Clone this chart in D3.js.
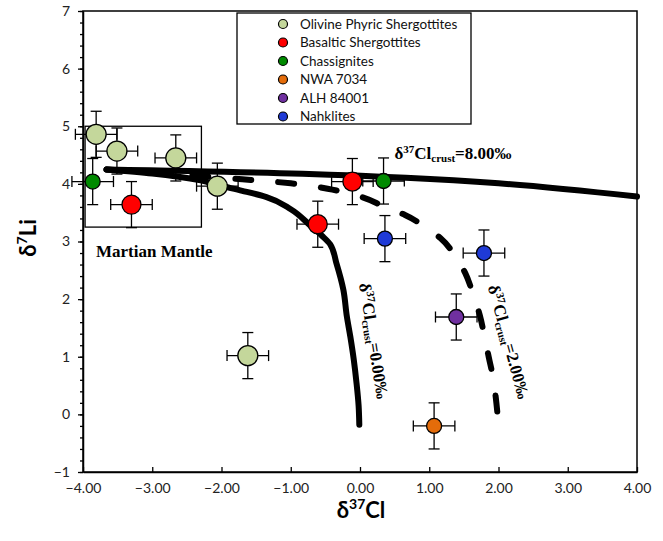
<!DOCTYPE html>
<html>
<head>
<meta charset="utf-8">
<script src="https://cdn.jsdelivr.net/npm/d3@7"></script>
<style>
  body { margin: 0; background: #fff; }
  svg { display: block; }
</style>
</head>
<body>
<svg width="663" height="541"></svg>
<script>
// sample groups (legend order)
const groups = ["Olivine Phyric Shergottites", "Basaltic Shergottites", "Chassignites", "NWA 7034", "ALH 84001", "Nahklites"];
const groupColors = ["#c4d79b", "#ff0000", "#008a00", "#e46c0a", "#7030a0", "#1f3ad6"];

// d37Cl / d7Li values
const olivineCl = [-3.81, -3.51, -2.66, -2.06, -1.62];
const olivineLi = [4.86, 4.57, 4.45, 3.96, 1.02];
const basalticCl = [-3.30, -0.61, -0.11];
const basalticLi = [3.64, 3.30, 4.04];
const chassCl = [-3.86, 0.34];
const chassLi = [4.04, 4.05];
const nwaCl = [1.07];
const nwaLi = [-0.20];
const alhCl = [1.39];
const alhLi = [1.69];
const nakhCl = [0.36, 1.79];
const nakhLi = [3.05, 2.80];
const errCl = 0.3;
const errLi = 0.4;

// mixing curves
const crust8Cl = [-3.66, 2.0, 4.0];
const crust8Li = [4.25, 4.01, 3.78];
const crust0Cl = [-3.66, -3.0, -2.3, -2.05, -1.7, -1.35, -1.0, -0.72, -0.55, -0.43, -0.34, -0.24, -0.19, -0.14, -0.09, -0.05, -0.02, -0.01];
const crust0Li = [4.25, 4.18, 4.06, 3.98, 3.88, 3.77, 3.56, 3.28, 3.10, 2.95, 2.62, 2.16, 1.70, 1.35, 0.95, 0.54, 0.15, -0.18];
const crust2Cl = [-3.66, -2.6, -1.7, -1.0, -0.4, 0.0, 0.36, 0.65, 0.91, 1.16, 1.37, 1.52, 1.63, 1.73, 1.80, 1.86, 1.92, 1.96, 1.99];
const crust2Li = [4.25, 4.16, 4.08, 4.01, 3.90, 3.78, 3.60, 3.46, 3.28, 3.06, 2.76, 2.45, 2.10, 1.72, 1.34, 0.99, 0.65, 0.30, -0.05];

// Martian mantle box
const mantleCl = [-3.97, -2.29];
const mantleLi = [3.25, 5.0];

const xTicks = [-4, -3, -2, -1, 0, 1, 2, 3, 4];
const yTicks = [-1, 0, 1, 2, 3, 4, 5, 6, 7];

const svg = d3.select("svg");
const x = d3.scaleLinear().domain([-4, 4]).range([83, 637]);
const y = d3.scaleLinear().domain([-1, 7]).range([472, 11]);

const sans = "Lato, 'Open Sans', sans-serif";
const serif = "'Liberation Serif', 'Times New Roman', serif";

// frame
svg.append("rect")
    .attr("x", x(-4)).attr("y", y(7))
    .attr("width", x(4) - x(-4)).attr("height", y(-1) - y(7))
    .attr("fill", "none").attr("stroke", "#000").attr("stroke-width", 1.5);

// y axis minor + major
svg.append("g")
    .attr("transform", "translate(" + x(-4) + ",0)")
    .call(d3.axisLeft(y).ticks(40).tickSize(3).tickFormat(""))
    .call(g => g.select(".domain").remove())
    .selectAll("line").attr("stroke-width", 1.3);
let yAxis = svg.append("g")
    .attr("transform", "translate(" + x(-4) + ",0)")
    .call(d3.axisLeft(y).tickValues(yTicks).tickSize(5).tickSizeOuter(0).tickPadding(8).tickFormat(d3.format("d")));
yAxis.select(".domain").attr("stroke-width", 1.5);
yAxis.selectAll("line").attr("stroke-width", 1.3);
yAxis.selectAll("text").attr("font-family", sans).attr("font-size", 14).attr("fill", "#222");

// x axis, ticks pointing inward
let xAxis = svg.append("g")
    .attr("transform", "translate(0," + y(-1) + ")")
    .call(d3.axisBottom(x).tickValues(xTicks).tickSizeInner(-5).tickSizeOuter(0).tickPadding(11).tickFormat(d3.format(".2f")));
xAxis.select(".domain").attr("stroke-width", 1.5);
xAxis.selectAll("line").attr("stroke-width", 1.3);
xAxis.selectAll("text").attr("font-family", sans).attr("font-size", 14).attr("fill", "#222");

// axis titles
svg.append("text")
    .attr("x", 361).attr("y", 518)
    .attr("text-anchor", "middle")
    .attr("font-family", sans).attr("font-weight", "bold").attr("font-size", 22)
    .call(t => {
        t.append("tspan").text("δ");
        t.append("tspan").attr("font-size", 14).attr("dy", -9).text("37");
        t.append("tspan").attr("dy", 9).text("Cl");
    });
svg.append("text")
    .attr("transform", "translate(36,238) rotate(-90)")
    .attr("text-anchor", "middle")
    .attr("font-family", sans).attr("font-weight", "bold").attr("font-size", 22)
    .call(t => {
        t.append("tspan").text("δ");
        t.append("tspan").attr("font-size", 14).attr("dy", -9).text("7");
        t.append("tspan").attr("dy", 9).text("Li");
    });

// Martian mantle box
svg.append("rect")
    .attr("x", x(mantleCl[0])).attr("y", y(mantleLi[1]))
    .attr("width", x(mantleCl[1]) - x(mantleCl[0]))
    .attr("height", y(mantleLi[0]) - y(mantleLi[1]))
    .attr("fill", "none").attr("stroke", "#000").attr("stroke-width", 1.3);
svg.append("text")
    .attr("x", 96).attr("y", 257)
    .attr("font-family", serif).attr("font-weight", "bold").attr("font-size", 17)
    .text("Martian Mantle");

// mixing lines
const line = d3.line().x(d => x(d[0])).y(d => y(d[1])).curve(d3.curveMonotoneY);
const lineX = d3.line().x(d => x(d[0])).y(d => y(d[1])).curve(d3.curveMonotoneX);
svg.append("path")
    .datum(d3.zip(crust8Cl, crust8Li))
    .attr("d", lineX)
    .attr("fill", "none").attr("stroke", "#000").attr("stroke-width", 6).attr("stroke-linecap", "round");
svg.append("path")
    .datum(d3.zip(crust0Cl, crust0Li))
    .attr("d", line)
    .attr("fill", "none").attr("stroke", "#000").attr("stroke-width", 6).attr("stroke-linecap", "round");
svg.append("path")
    .datum(d3.zip(crust2Cl, crust2Li))
    .attr("d", line)
    .attr("fill", "none").attr("stroke", "#000").attr("stroke-width", 6)
    .attr("stroke-linecap", "round").attr("stroke-dasharray", "16,27");

// samples
const samples = [
    {cl: olivineCl, li: olivineLi, r: 10},
    {cl: basalticCl, li: basalticLi, r: 9.5},
    {cl: chassCl, li: chassLi, r: 7.5},
    {cl: nwaCl, li: nwaLi, r: 7.5},
    {cl: alhCl, li: alhLi, r: 7.5},
    {cl: nakhCl, li: nakhLi, r: 7.5}
];
let points = [];
samples.forEach((s, gi) => {
    s.cl.forEach((c, i) => points.push({cl: c, li: s.li[i], r: s.r, g: gi}));
});

let err = svg.append("g").attr("stroke", "#000").attr("stroke-width", 1.3);
const cap = 5.5;
points.forEach(p => {
    let cx = x(p.cl), cy = y(p.li);
    let x0 = x(p.cl - errCl), x1 = x(p.cl + errCl);
    let y0 = y(p.li + errLi), y1 = y(p.li - errLi);
    err.append("line").attr("x1", x0).attr("x2", x1).attr("y1", cy).attr("y2", cy);
    err.append("line").attr("x1", cx).attr("x2", cx).attr("y1", y0).attr("y2", y1);
    err.append("line").attr("x1", x0).attr("x2", x0).attr("y1", cy - cap).attr("y2", cy + cap);
    err.append("line").attr("x1", x1).attr("x2", x1).attr("y1", cy - cap).attr("y2", cy + cap);
    err.append("line").attr("x1", cx - cap).attr("x2", cx + cap).attr("y1", y0).attr("y2", y0);
    err.append("line").attr("x1", cx - cap).attr("x2", cx + cap).attr("y1", y1).attr("y2", y1);
});

svg.append("g")
    .selectAll("circle")
    .data(points)
    .join("circle")
    .attr("cx", d => x(d.cl))
    .attr("cy", d => y(d.li))
    .attr("r", d => d.r)
    .attr("fill", d => groupColors[d.g])
    .attr("stroke", "#000")
    .attr("stroke-width", 1.3);

// legend
let legend = svg.append("g");
legend.append("rect")
    .attr("x", 237).attr("y", 13).attr("width", 234).attr("height", 111)
    .attr("fill", "#fff").attr("stroke", "#000").attr("stroke-width", 1.3);
let rows = legend.selectAll("g.row")
    .data(groups)
    .join("g")
    .attr("transform", (d, i) => "translate(283," + (24 + i * 18.5) + ")");
rows.append("circle")
    .attr("r", 4.5)
    .attr("fill", (d, i) => groupColors[i])
    .attr("stroke", "#000").attr("stroke-width", 1.2);
rows.append("text")
    .attr("x", 17).attr("dy", "0.36em")
    .attr("font-family", sans).attr("font-size", 13.5).attr("fill", "#111")
    .text(d => d);

// curve annotations
function crustLabel(sel, value) {
    sel.attr("font-family", serif).attr("font-weight", "bold").attr("font-size", 17);
    sel.append("tspan").text("δ");
    sel.append("tspan").attr("font-size", 11).attr("dy", -6).text("37");
    sel.append("tspan").attr("dy", 6).text("Cl");
    sel.append("tspan").attr("font-size", 11).attr("dy", 3).text("crust");
    sel.append("tspan").attr("dy", -3).text("=" + value + "‰");
}
svg.append("text")
    .attr("x", 453).attr("y", 159).attr("text-anchor", "middle")
    .call(crustLabel, "8.00");
svg.append("text")
    .attr("transform", "translate(373,341) rotate(81.2)")
    .attr("text-anchor", "middle").attr("dy", 5)
    .call(crustLabel, "0.00");
svg.append("text")
    .attr("transform", "translate(508,342) rotate(74.8)")
    .attr("text-anchor", "middle").attr("dy", 5)
    .call(crustLabel, "2.00");
</script>
</body>
</html>
